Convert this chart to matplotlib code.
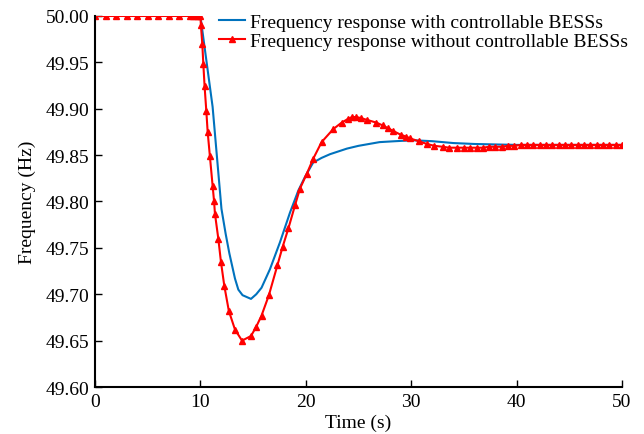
import numpy as np
import matplotlib
matplotlib.use("Agg")
import matplotlib.pyplot as plt

# frequency response with controllable BESSs (blue)
t_with = [0, 10.0, 11.16, 12.0, 12.4, 12.75, 13.28, 13.6, 14.0, 14.4, 14.8, 15.3, 15.8,
          16.6, 17.55, 18.5, 19.3, 19.9, 20.7, 21.5, 22.3, 23.1, 23.9, 25.0, 26.0, 27.0,
          28.5, 30.2, 32.0, 34.0, 36.0, 40.0, 50.0]
f_with = [50.0, 50.0, 49.902, 49.792, 49.765, 49.744, 49.717, 49.705, 49.699, 49.697, 49.695,
          49.700, 49.707, 49.727, 49.756, 49.788, 49.812, 49.826, 49.842, 49.847, 49.851,
          49.854, 49.857, 49.860, 49.862, 49.864, 49.865, 49.866, 49.865, 49.863, 49.862,
          49.861, 49.861]

# frequency response without controllable BESSs (red, markers)
t_without = [0, 1, 2, 3, 4, 5, 6, 7, 8, 9, 9.33, 9.58, 9.8, 10.0,
             10.05, 10.18, 10.28, 10.4, 10.56, 10.69, 10.9, 11.16, 11.3, 11.38,
             11.7, 11.95, 12.27, 12.7, 13.28, 13.95, 14.8, 15.3, 15.8, 16.5,
             17.3, 17.8, 18.35, 18.98, 19.45, 20.1, 20.7, 21.5, 22.6, 23.4,
             24.0, 24.4, 24.8, 25.2, 25.8, 26.7, 27.3, 27.8, 28.3, 29.0,
             29.5, 29.9, 30.7, 31.5, 32.2, 33.0, 33.6, 34.3, 35.0, 35.6,
             36.2, 36.8, 37.4, 38.0, 38.6, 39.2, 39.8, 40.4, 41.0, 41.6,
             42.2, 42.8, 43.4, 44.0, 44.6, 45.2, 45.8, 46.4, 47.0, 47.6,
             48.2, 48.8, 49.4, 50.0]
f_without = [50.0, 50.0, 50.0, 50.0, 50.0, 50.0, 50.0, 50.0, 50.0, 50.0, 50.0, 50.0, 50.0, 50.0,
             49.99, 49.970, 49.948, 49.924, 49.898, 49.875, 49.849, 49.817, 49.800, 49.787,
             49.760, 49.735, 49.709, 49.682, 49.662, 49.650, 49.655, 49.665, 49.677, 49.699,
             49.731, 49.751, 49.771, 49.796, 49.814, 49.830, 49.846, 49.864, 49.878, 49.885,
             49.889, 49.891, 49.891, 49.890, 49.888, 49.885, 49.882, 49.879, 49.876, 49.872,
             49.870, 49.868, 49.865, 49.862, 49.860, 49.859, 49.858, 49.858, 49.858, 49.858,
             49.858, 49.858, 49.859, 49.859, 49.859, 49.860, 49.860, 49.861, 49.861, 49.861,
             49.861, 49.861, 49.861, 49.861, 49.861, 49.861, 49.861, 49.861, 49.861, 49.861,
             49.861, 49.861, 49.861, 49.861]

x_ticks = [0, 10, 20, 30, 40, 50]
y_ticks = [49.60, 49.65, 49.70, 49.75, 49.80, 49.85, 49.90, 49.95, 50.00]

plt.rcParams['font.family'] = ['Liberation Serif', 'DejaVu Serif']
plt.rcParams['font.size'] = 14

fig = plt.figure(figsize=(6.44, 4.35), dpi=100)
ax = fig.add_axes([0.1475, 0.108, 0.8183, 0.853])

ax.plot(t_with, f_with, color='#0072BD', linewidth=1.5,
        label='Frequency response with controllable BESSs')
ax.plot(t_without, f_without, color='red', linewidth=1.5, marker='^', markersize=5,
        label='Frequency response without controllable BESSs')

ax.set_xlim(0, 50)
ax.set_ylim(49.60, 50.00)
ax.set_xticks(x_ticks)
ax.set_yticks(y_ticks)
ax.set_yticklabels(["%.2f" % v for v in y_ticks])
ax.tick_params(direction='in', length=5, width=1, pad=4)
for s in ['top', 'right']:
    ax.spines[s].set_visible(False)
for s in ['left', 'bottom']:
    ax.spines[s].set_linewidth(1.5)
ax.set_xlabel("Time (s)", labelpad=3)
ax.set_ylabel("Frequency (Hz)", labelpad=7)

ax.legend(loc='upper right', frameon=False, handlelength=1.3, handletextpad=0.3,
          labelspacing=0.05, borderaxespad=0.0, bbox_to_anchor=(1.027, 1.028))

fig.savefig("out.png", dpi=100)
